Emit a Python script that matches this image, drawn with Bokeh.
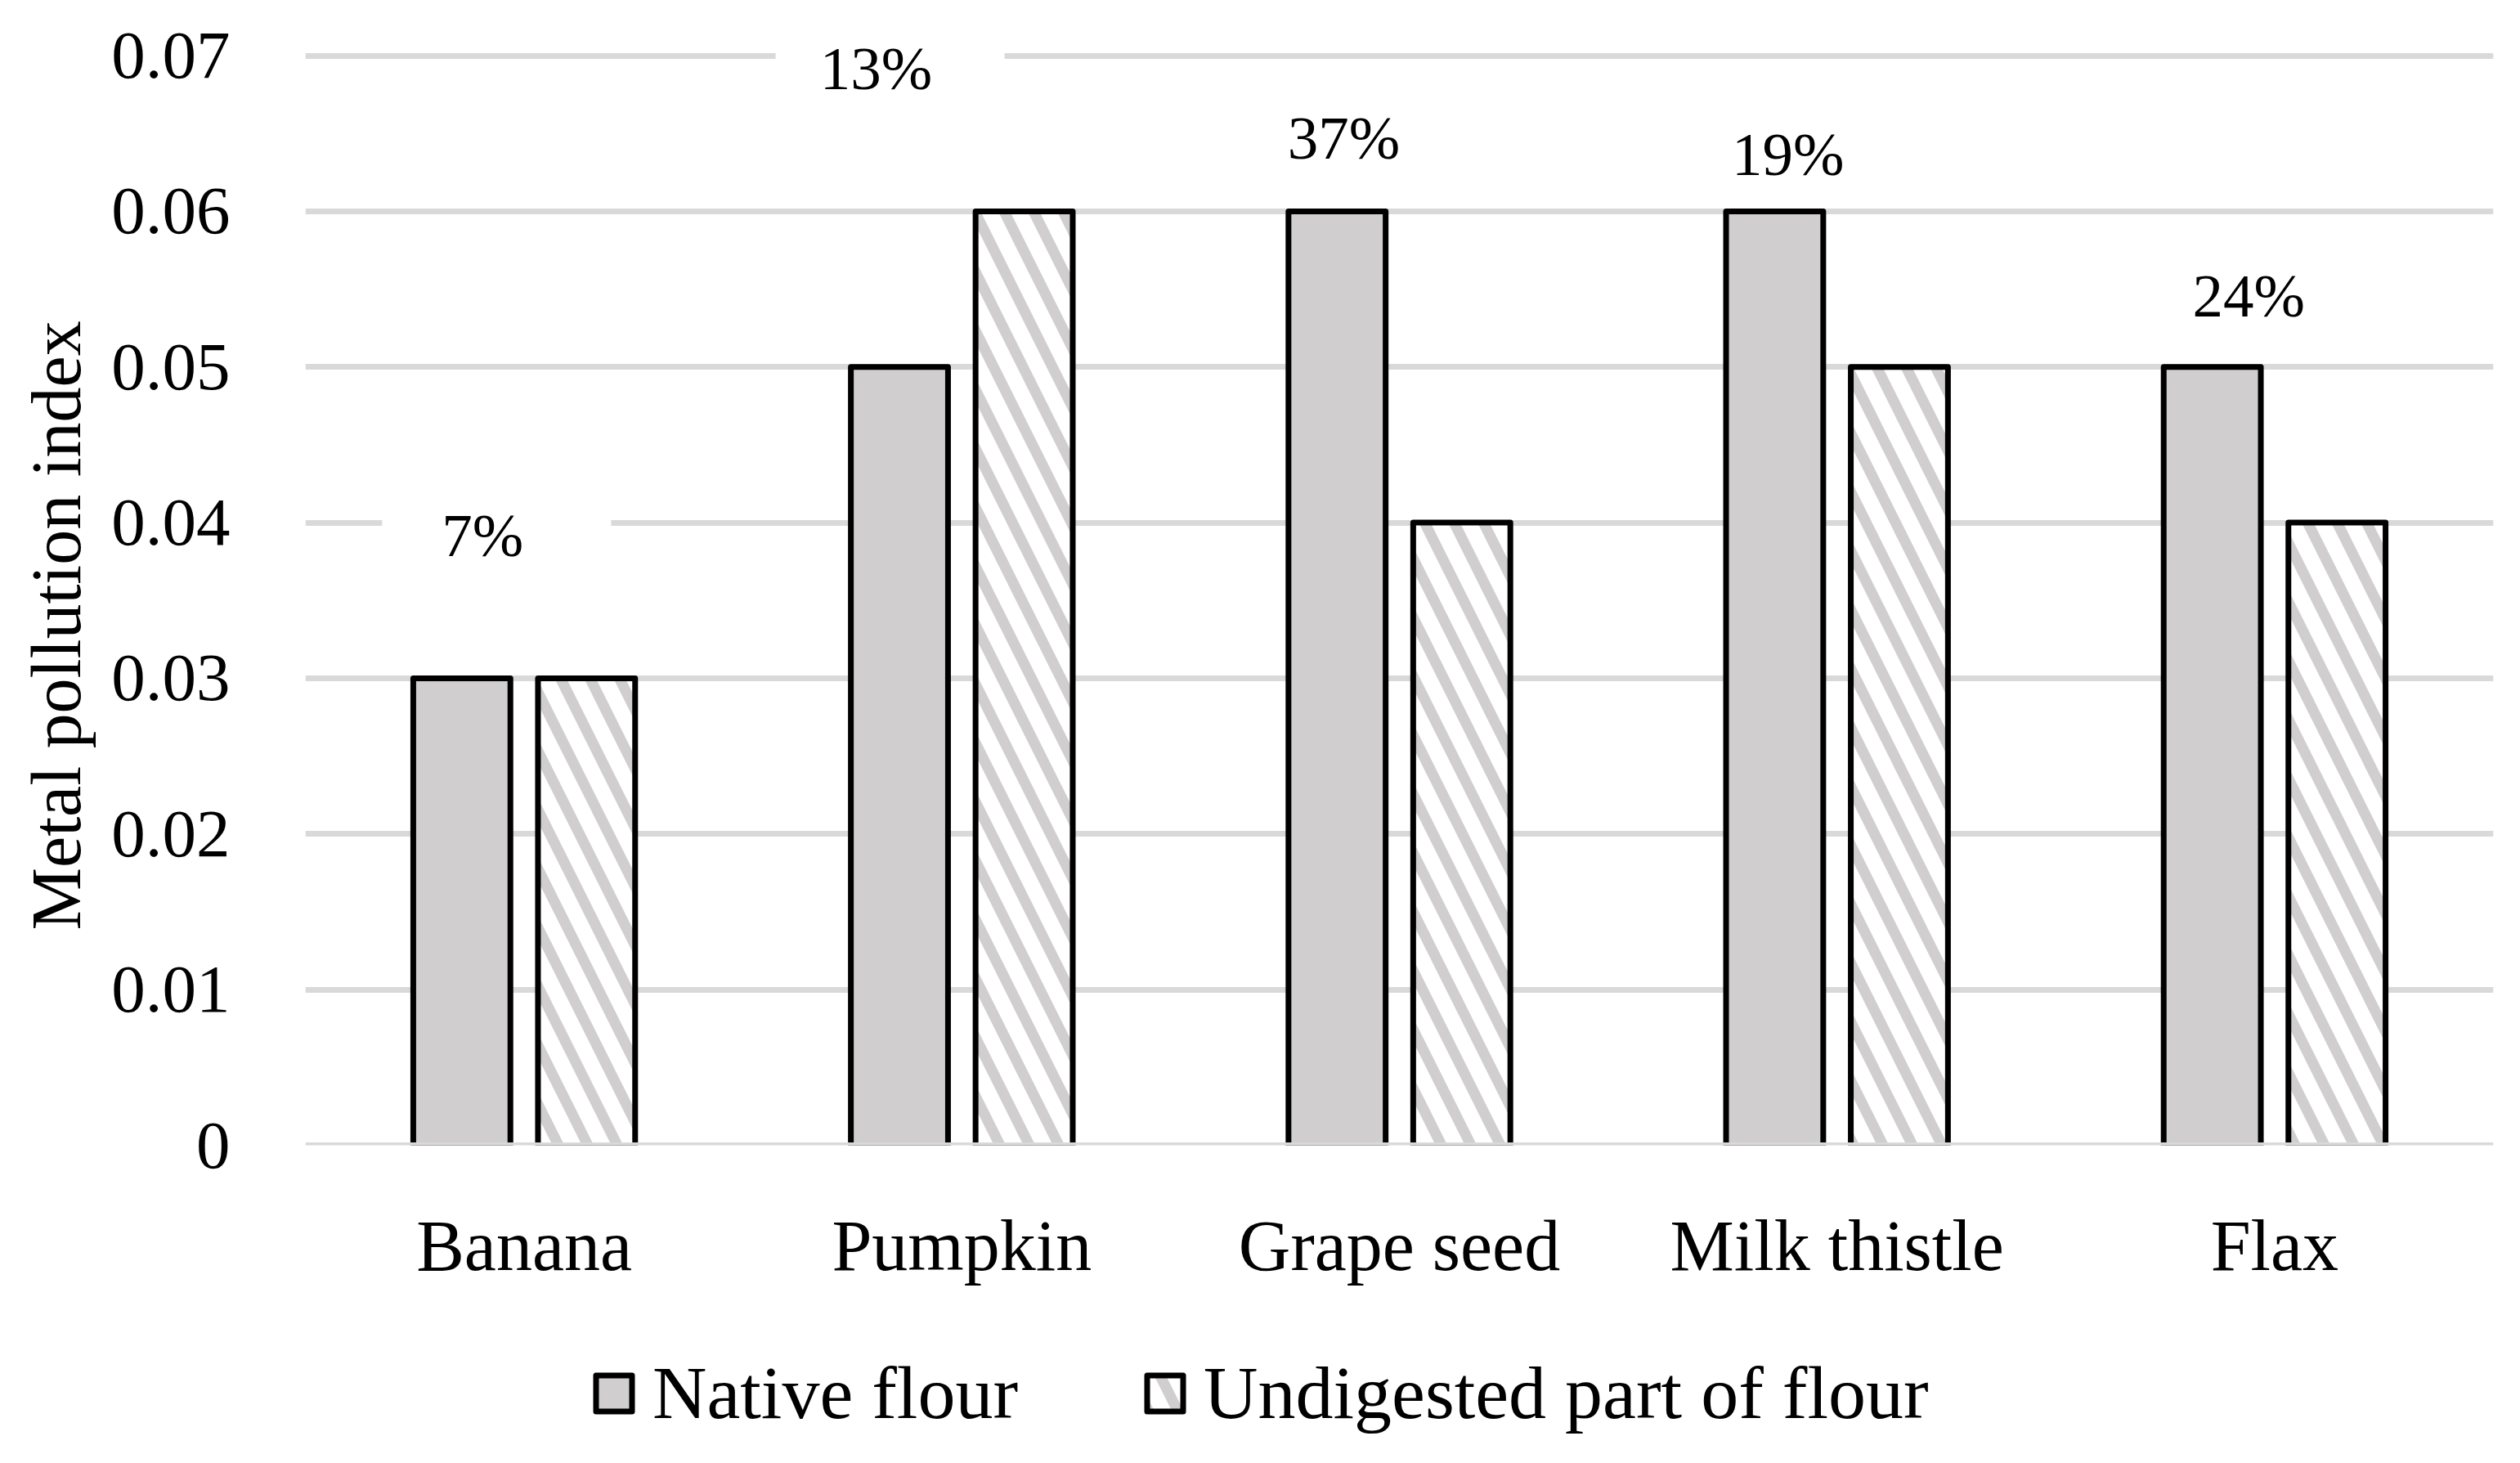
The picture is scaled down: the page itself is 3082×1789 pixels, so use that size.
import math
from bokeh.plotting import figure
from bokeh.layouts import column
from bokeh.models import (ColumnDataSource, Range1d, FixedTicker, NumeralTickFormatter,
                          Legend, LegendItem, Title, Span)
from bokeh.core.properties import value
from bokeh.embed import file_html
from bokeh.resources import INLINE

# ---- data ----
categories = ["Banana", "Pumpkin", "Grape seed", "Milk thistle", "Flax"]
native_flour = [0.03, 0.05, 0.06, 0.06, 0.05]
undigested_part = [0.03, 0.06, 0.04, 0.05, 0.04]
pct_labels = ["7%", "13%", "37%", "19%", "24%"]
pct_label_y = [0.0392, 0.0692, 0.0647, 0.0637, 0.0546]
pct_label_dx = [-0.095, -0.196, -0.127, -0.112, -0.059]
y_ticks = [0, 0.01, 0.02, 0.03, 0.04, 0.05, 0.06, 0.07]
series_names = ["Native flour", "Undigested part of flour"]

# ---- style ----
FONT = "Liberation Serif"
GRID = "#D9D9D9"
FILL = "#D0CECE"
BAR_W = 0.222
OFF = 0.1425
BOX_DX = 0.032
W = 3066
H_MAIN, H_LEG = 1600, 173
FRAME_LEFT = 373

native_style = dict(fill_color=FILL, line_color="black", line_width=7, line_join="round")
undig_style = dict(fill_color="white", hatch_pattern="left_diagonal_line", hatch_color=FILL,
                   hatch_scale=72, hatch_weight=13,
                   line_color="black", line_width=7, line_join="round")

centers = [i + 0.5 for i in range(len(categories))]
src = ColumnDataSource(dict(
    xn=[c - OFF for c in centers],
    xu=[c + OFF for c in centers],
    native=native_flour,
    undig=undigested_part,
))
lab_x = [c + d for c, d in zip(centers, pct_label_dx)]
lab_src = ColumnDataSource(dict(
    x=lab_x,
    bx=[x + BOX_DX for x in lab_x],
    y=pct_label_y,
    text=pct_labels,
))

p = figure(width=W, height=H_MAIN, output_backend="svg", toolbar_location=None,
           x_range=Range1d(0, len(categories)), y_range=Range1d(0, 0.0725),
           min_border_left=FRAME_LEFT, min_border_right=17, min_border_top=20,
           min_border_bottom=200)
p.outline_line_color = None
p.background_fill_color = "white"
p.border_fill_color = "white"

# white boxes behind percent labels (they interrupt gridlines)
p.rect(x="bx", y="y", width=280, height=70, width_units="screen", height_units="screen",
       fill_color="white", line_color=None, source=lab_src)

p.vbar(x="xn", top="native", bottom=0, width=BAR_W, source=src, **native_style)
p.vbar(x="xu", top="undig", bottom=0, width=BAR_W, source=src, **undig_style)

p.add_layout(Span(location=0, dimension="width", line_color=GRID, line_width=7))

p.text(x="x", y="y", text="text", source=lab_src, text_font=value(FONT),
       text_font_size="75px", text_align="center", text_baseline="middle",
       text_color="black")

# axes
p.yaxis.ticker = FixedTicker(ticks=y_ticks)
p.yaxis.formatter = NumeralTickFormatter(format="0.[00]")
p.yaxis.axis_line_color = None
p.yaxis.major_tick_line_color = None
p.yaxis.minor_tick_line_color = None
p.yaxis.major_label_standoff = 86
p.yaxis.major_label_text_font = FONT
p.yaxis.major_label_text_font_size = "83px"
p.yaxis.major_label_text_color = "black"

p.xaxis.ticker = FixedTicker(ticks=centers)
p.xaxis.major_label_overrides = {c: n for c, n in zip(centers, categories)}
p.xaxis.axis_line_color = None
p.xaxis.major_tick_line_color = None
p.xaxis.minor_tick_line_color = None
p.xaxis.major_label_standoff = 68
p.xaxis.major_label_text_font = FONT
p.xaxis.major_label_text_font_size = "88px"
p.xaxis.major_label_text_color = "black"

p.xgrid.visible = False
p.ygrid.grid_line_color = GRID
p.ygrid.grid_line_width = 7

p.add_layout(Title(text="Metal pollution index", align="left", offset=263,
                   vertical_align="top", text_font=FONT, text_font_size="86px",
                   text_font_style="normal", text_color="black", standoff=29), "left")

# ---- legend strip (separate figure so the legend is never clipped) ----
q = figure(width=W, height=H_LEG, output_backend="svg", toolbar_location=None,
           x_range=Range1d(0, 1), y_range=Range1d(0, 1),
           x_axis_location=None, y_axis_location=None,
           min_border_left=0, min_border_right=0, min_border_top=0, min_border_bottom=0)
q.outline_line_color = None
q.xgrid.visible = False
q.ygrid.visible = False
# NaN position: nothing is drawn in the strip, only the legend swatches show
hidden = ColumnDataSource(dict(x=[float("nan")], top=[float("nan")]))
l1 = q.vbar(x="x", top="top", width=0.1, source=hidden, **native_style)
l2 = q.vbar(x="x", top="top", width=0.1, source=hidden, **undig_style)

legend = Legend(items=[LegendItem(label=series_names[0], renderers=[l1]),
                       LegendItem(label=series_names[1], renderers=[l2])],
                location=(723 - FRAME_LEFT, 17), orientation="horizontal",
                glyph_width=55, glyph_height=55, label_standoff=20, spacing=152,
                padding=0, margin=0, border_line_color=None,
                background_fill_alpha=0, label_text_font=FONT,
                label_text_color="black",
                label_text_font_size="92px", label_height=55)
q.add_layout(legend)

open("out.html", "w").write(file_html(column(p, q, spacing=0), INLINE))
